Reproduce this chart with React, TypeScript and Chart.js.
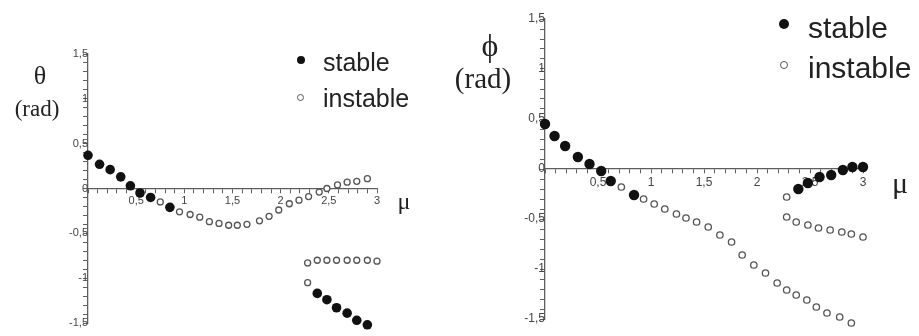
import React, { useEffect, useRef } from "react";
import { Chart, registerables } from "chart.js";
Chart.register(...registerables);

// ---- Left panel: theta (rad) vs mu ----
const thetaStableMuA = [0, 0.12, 0.23, 0.34, 0.44, 0.54, 0.65, 0.85];
const thetaStableA = [0.37, 0.27, 0.21, 0.13, 0.03, -0.05, -0.1, -0.21];
const thetaStableMuB = [2.38, 2.48, 2.58, 2.69, 2.79, 2.9, 3.0];
const thetaStableB = [-1.17, -1.24, -1.33, -1.39, -1.47, -1.52, -1.57];
const thetaInstableMuA = [0.75, 0.95, 1.06, 1.16, 1.26, 1.36, 1.46, 1.55, 1.65, 1.78, 1.88, 1.98, 2.09, 2.19, 2.29, 2.4, 2.48, 2.59, 2.69, 2.79, 2.9];
const thetaInstableA = [-0.15, -0.26, -0.29, -0.32, -0.37, -0.39, -0.41, -0.41, -0.4, -0.36, -0.31, -0.24, -0.17, -0.13, -0.09, -0.04, 0.0, 0.04, 0.07, 0.08, 0.11];
const thetaInstableMuB = [2.28, 2.38, 2.48, 2.58, 2.69, 2.79, 2.9, 3.0];
const thetaInstableB = [-0.83, -0.8, -0.8, -0.8, -0.8, -0.8, -0.8, -0.81];
const thetaInstableMuC = [2.28];
const thetaInstableC = [-1.05];

// ---- Right panel: phi (rad) vs mu ----
const phiStableMuA = [0, 0.09, 0.19, 0.31, 0.42, 0.53, 0.62, 0.84];
const phiStableA = [0.45, 0.33, 0.23, 0.12, 0.05, -0.02, -0.12, -0.26];
const phiStableMuB = [2.39, 2.48, 2.59, 2.7, 2.81, 2.9, 3.0];
const phiStableB = [-0.2, -0.14, -0.08, -0.06, -0.01, 0.02, 0.02];
const phiInstableMuA = [0.72, 0.93, 1.03, 1.13, 1.24, 1.33, 1.43, 1.54, 1.65, 1.76, 1.86, 1.97, 2.08, 2.19, 2.28, 2.37, 2.47, 2.56, 2.66, 2.78, 2.89];
const phiInstableA = [-0.18, -0.3, -0.35, -0.4, -0.45, -0.49, -0.53, -0.58, -0.66, -0.73, -0.86, -0.96, -1.04, -1.14, -1.21, -1.26, -1.31, -1.38, -1.44, -1.48, -1.54];
const phiInstableMuB = [2.28, 2.37, 2.48, 2.58, 2.69, 2.8, 2.89, 3.0];
const phiInstableB = [-0.48, -0.53, -0.56, -0.59, -0.61, -0.63, -0.65, -0.68];
const phiInstableMuC = [2.28];
const phiInstableC = [-0.28];

const muTickLabels = ["0,5", "1", "1,5", "2", "2,5", "3"];
const angleTickLabels = ["-1,5", "-1", "-0,5", "0", "0,5", "1", "1,5"];

function pts(xs: number[], ys: number[]) {
  return xs.map((x, i) => ({ x, y: ys[i] }));
}

function fmt(v: number, isX: boolean): string {
  const k = Math.round(v * 10);
  if (k % 5 !== 0) return "";
  if (k === 0) return isX ? "" : angleTickLabels[3];
  const idx = k / 5;
  if (isX) return muTickLabels[idx - 1] ?? "";
  return angleTickLabels[idx + 3] ?? "";
}

type PanelProps = {
  left: number;
  width: number;
  pad: { left: number; right: number; top: number; bottom: number };
  stable: { x: number; y: number }[];
  instable: { x: number; y: number }[];
  stableR: number;
  openR: number;
  tickFont: number;
};

function Panel(p: PanelProps) {
  const ref = useRef<HTMLCanvasElement>(null);
  useEffect(() => {
    const axisColor = "#5e5e5e";
    const tickFont = { size: p.tickFont, family: "Liberation Sans, Arial, sans-serif" };
    const chart = new Chart(ref.current!, {
      type: "scatter",
      data: {
        datasets: [
          {
            label: "instable",
            data: p.instable,
            pointRadius: p.openR,
            pointBackgroundColor: "#ffffff",
            pointBorderColor: "#555555",
            pointBorderWidth: 1.3,
            showLine: false,
            clip: false as any,
          },
          {
            label: "stable",
            data: p.stable,
            pointRadius: p.stableR,
            pointBackgroundColor: "#111111",
            pointBorderColor: "#111111",
            pointBorderWidth: 0,
            showLine: false,
            clip: false as any,
          },
        ],
      },
      options: {
        responsive: false,
        animation: false,
        layout: { padding: p.pad },
        plugins: { legend: { display: false }, tooltip: { enabled: false } },
        scales: {
          x: {
            type: "linear",
            position: { y: 0 } as any,
            min: 0,
            max: 3,
            ticks: {
              stepSize: 0.1,
              autoSkip: false,
              maxRotation: 0,
              padding: 2,
              color: "#444",
              font: tickFont,
              callback: (v: any) => fmt(Number(v), true),
            },
            grid: { drawOnChartArea: false, drawTicks: true, tickLength: 4, color: axisColor, lineWidth: 1 },
            border: { display: true, color: axisColor, width: 1.3 },
          },
          y: {
            type: "linear",
            position: { x: 0 } as any,
            min: -1.5,
            max: 1.5,
            ticks: {
              stepSize: 0.1,
              autoSkip: false,
              padding: 1,
              color: "#444",
              font: tickFont,
              callback: (v: any) => fmt(Number(v), false),
            },
            grid: { drawOnChartArea: false, drawTicks: true, tickLength: 4, color: axisColor, lineWidth: 1 },
            border: { display: true, color: axisColor, width: 1.3 },
          },
        },
      },
    });
    return () => chart.destroy();
  }, []);
  return (
    <canvas
      ref={ref}
      width={p.width}
      height={336}
      style={{ position: "absolute", left: p.left, top: 0, width: p.width, height: 336 }}
    />
  );
}

function Txt(props: { x: number; y: number; size: number; serif?: boolean; anchor?: "left" | "center"; children: React.ReactNode }) {
  const { x, y, size, serif, anchor = "center" } = props;
  return (
    <div
      style={{
        position: "absolute",
        left: x,
        top: y,
        transform: anchor === "center" ? "translate(-50%, -50%)" : "translate(0, -50%)",
        fontFamily: serif ? "Liberation Serif, DejaVu Serif, serif" : "Liberation Sans, Arial, sans-serif",
        fontSize: size,
        lineHeight: 1,
        color: "#222",
        whiteSpace: "nowrap",
      }}
    >
      {props.children}
    </div>
  );
}

function Dot(props: { x: number; y: number; d: number; filled: boolean }) {
  const { x, y, d, filled } = props;
  return (
    <div
      style={{
        position: "absolute",
        left: x - d / 2,
        top: y - d / 2,
        width: d,
        height: d,
        boxSizing: "border-box",
        borderRadius: "50%",
        background: filled ? "#111" : "#fff",
        border: filled ? "none" : "1.5px solid #555",
      }}
    />
  );
}

export default function App() {
  const thetaStable = [...pts(thetaStableMuA, thetaStableA), ...pts(thetaStableMuB, thetaStableB)];
  const thetaInstable = [
    ...pts(thetaInstableMuA, thetaInstableA),
    ...pts(thetaInstableMuB, thetaInstableB),
    ...pts(thetaInstableMuC, thetaInstableC),
  ];
  const phiStable = [...pts(phiStableMuA, phiStableA), ...pts(phiStableMuB, phiStableB)];
  const phiInstable = [
    ...pts(phiInstableMuA, phiInstableA),
    ...pts(phiInstableMuB, phiInstableB),
    ...pts(phiInstableMuC, phiInstableC),
  ];
  return (
    <div style={{ position: "fixed", left: 0, top: 0, width: 919, height: 336, background: "#fff", overflow: "hidden" }}>
      <Panel
        left={0}
        width={460}
        pad={{ left: 88, right: 83, top: 54, bottom: 13 }}
        stable={thetaStable}
        instable={thetaInstable}
        stableR={4.8}
        openR={3}
        tickFont={11}
      />
      <Panel
        left={460}
        width={459}
        pad={{ left: 85, right: 56, top: 19, bottom: 17 }}
        stable={phiStable}
        instable={phiInstable}
        stableR={5.2}
        openR={3.2}
        tickFont={12}
      />
      {/* left panel texts */}
      <Txt x={40} y={76} size={26} serif>θ</Txt>
      <Txt x={37} y={108} size={23} serif>(rad)</Txt>
      <Txt x={404} y={201} size={24} serif>μ</Txt>
      <Dot x={301} y={60} d={8} filled />
      <Dot x={300} y={97} d={7} filled={false} />
      <Txt x={323} y={62} size={25} anchor="left">stable</Txt>
      <Txt x={323} y={98} size={25} anchor="left">instable</Txt>
      {/* right panel texts */}
      <Txt x={490} y={45} size={32} serif>ϕ</Txt>
      <Txt x={483} y={78} size={29} serif>(rad)</Txt>
      <Txt x={900} y={183} size={30} serif>μ</Txt>
      <Dot x={784} y={24} d={10} filled />
      <Dot x={784} y={65} d={8} filled={false} />
      <Txt x={808} y={28} size={30} anchor="left">stable</Txt>
      <Txt x={808} y={68} size={30} anchor="left">instable</Txt>
    </div>
  );
}
